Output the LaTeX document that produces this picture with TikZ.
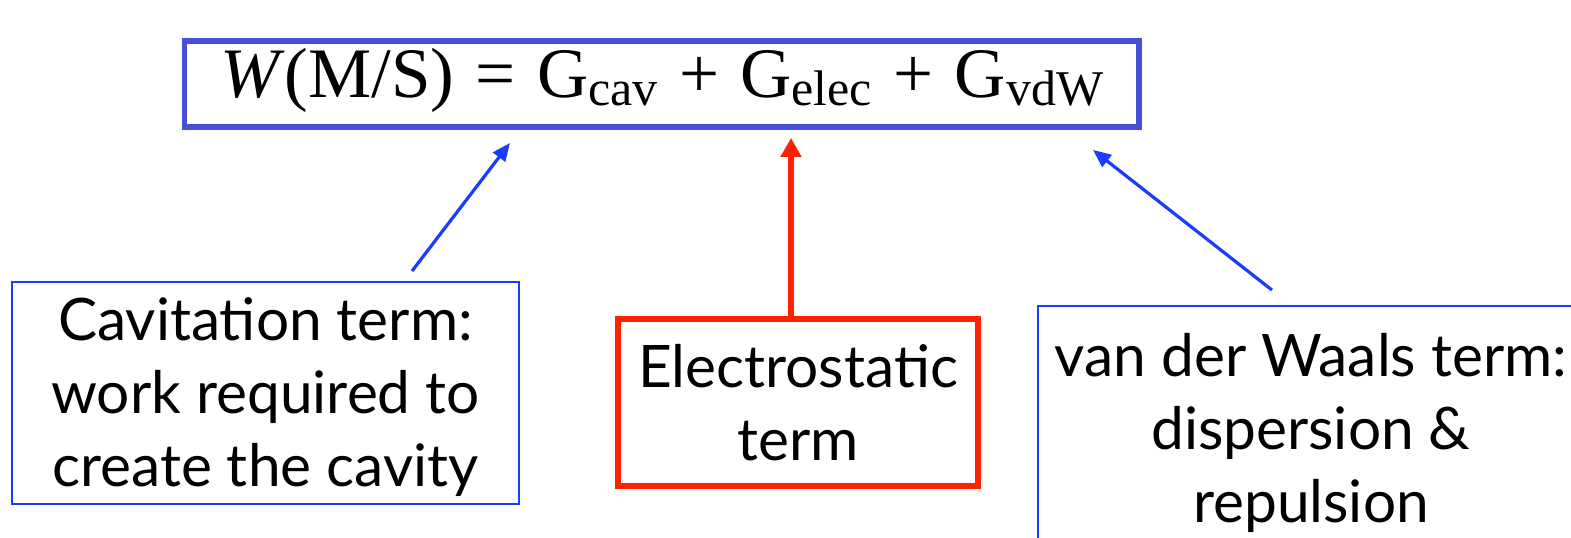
\documentclass[tikz,border=0pt]{standalone}
\usepackage{fontspec}
\setmainfont{Liberation Serif}
\newfontfamily\gillfont{Lato}
\usetikzlibrary{arrows.meta}
\definecolor{frameblue}{RGB}{68,80,214}
\definecolor{noteblue}{RGB}{25,60,255}
\definecolor{elecred}{RGB}{255,34,0}
% lowered subscript of the equation
\newcommand{\eqsub}[1]{\raisebox{-4pt}{\fontsize{25}{30}\selectfont #1}}

\begin{document}
\begin{tikzpicture}[
    % one unit = one pixel of the slide
    x=0.5pt, y=-0.5pt,
    eqbox/.style={draw=frameblue, line width=2.75pt, minimum width=477.25pt, minimum height=43pt,
        inner sep=0pt, text height=20pt, text depth=7pt, font=\fontsize{35.5}{40}\selectfont},
    termbox/.style={draw=noteblue, line width=0.75pt, align=center, inner sep=0pt,
        font=\gillfont\fontsize{29.3}{36.5}\selectfont},
    elecbox/.style={termbox, draw=elecred, line width=3pt},
    bluearrow/.style={-{Triangle[length=9pt,width=7.5pt]}, noteblue, line width=1.6pt},
    redarrow/.style={-{Triangle[length=9.5pt,width=10pt]}, elecred, line width=2.8pt}
]
    \useasboundingbox (0,0) rectangle (1571,537);
    \clip (0,0) rectangle (1571,537);

    % Solvation free energy
    \node[eqbox] (eq) at (661.75,84)
        {\spaceskip=0.3em\textit{W}(M/S) = G\eqsub{cav} + G\eqsub{elec} + G\eqsub{vdW}\hspace{13pt}};

    % The three terms
    \node[termbox, minimum width=253.5pt, minimum height=111pt] (cav) at (265.5,393)
        {\rule{0pt}{26pt}Cavitation term:\\work required to\\create the cavity};
    \node[elecbox, minimum width=180pt, minimum height=83.5pt] (elec) at (798,402.5)
        {Electrostatic\\term};
    \node[termbox, minimum width=273pt, minimum height=124pt] (vdw) at (1311,430)
        {\rule{0pt}{25pt}van der Waals term:\\dispersion \&\\repulsion};

    % Arrows up to the equation
    \draw[bluearrow] ([xshift=73.25pt,yshift=5.1pt]cav.north) -- ([xshift=-75.9pt,yshift=-6.6pt]eq.south);
    \draw[redarrow] ([xshift=-3.5pt]elec.north) -- ([xshift=-3.5pt,yshift=-4.1pt]elec.north |- eq.south);
    \draw[bluearrow] ([xshift=-19.5pt,yshift=7.6pt]vdw.north) -- ([xshift=215.6pt,yshift=-10.1pt]eq.south);
\end{tikzpicture}
\end{document}
